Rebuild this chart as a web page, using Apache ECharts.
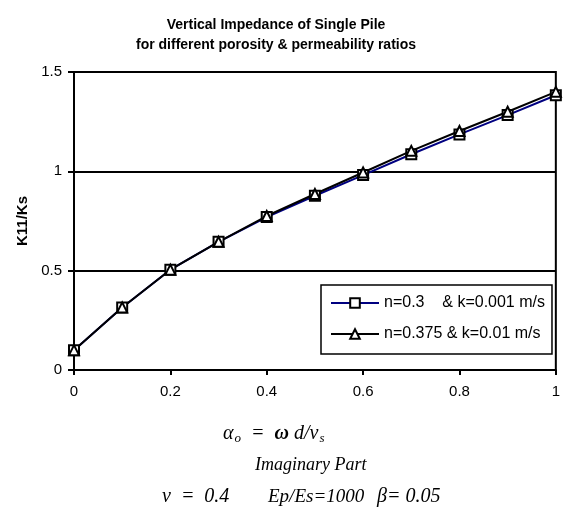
<!DOCTYPE html>
<html>
<head>
<meta charset="utf-8">
<script src="https://cdn.jsdelivr.net/npm/echarts@6/dist/echarts.min.js"></script>
<style>
  html, body { margin: 0; padding: 0; background: #fff; }
  #chart { width: 563px; height: 514px; }
</style>
</head>
<body>
<div id="chart"></div>
<script>
var xVals = [0, 0.1, 0.2, 0.3, 0.4, 0.5, 0.6, 0.7, 0.8, 0.9, 1.0];
var seriesNames = ['n=0.3    & k=0.001 m/s', 'n=0.375 & k=0.01 m/s'];
var k11Low = [0.10, 0.315, 0.505, 0.645, 0.77, 0.877, 0.981, 1.086, 1.186, 1.283, 1.383];
var k11High = [0.10, 0.315, 0.505, 0.645, 0.775, 0.886, 0.994, 1.103, 1.203, 1.30, 1.40];

function pairs(ys) {
  return xVals.map(function (x, i) { return [x, ys[i]]; });
}

var chart = echarts.init(document.getElementById('chart'));
var serif = '"Liberation Serif", "Times New Roman", serif';
var sans = 'Arial, "Liberation Sans", sans-serif';

chart.setOption({
  animation: false,
  backgroundColor: '#fff',
  title: {
    text: 'Vertical Impedance of Single Pile\nfor different porosity & permeability ratios',
    left: 271,
    top: 10,
    textAlign: 'center',
    textStyle: { fontFamily: sans, fontSize: 14, fontWeight: 'bold', color: '#000', lineHeight: 20 }
  },
  grid: { left: 74, right: 4, top: 72, bottom: 144, show: true, borderColor: '#000', borderWidth: 2 },
  legend: {
    orient: 'vertical',
    left: 321,
    top: 285,
    padding: [10, 7, 12, 9],
    itemGap: 15,
    itemWidth: 48,
    itemHeight: 12,
    borderColor: '#000',
    borderWidth: 1.5,
    backgroundColor: '#fff',
    textStyle: { fontFamily: sans, fontSize: 16, color: '#000' },
    data: seriesNames
  },
  xAxis: {
    type: 'value',
    min: 0, max: 1, interval: 0.2,
    axisLine: { lineStyle: { color: '#000', width: 2 } },
    axisTick: { show: true, length: 5, lineStyle: { color: '#000', width: 2 } },
    axisLabel: { color: '#000', fontSize: 15, fontFamily: sans, margin: 14 },
    splitLine: { show: false }
  },
  yAxis: {
    type: 'value',
    min: 0, max: 1.5, interval: 0.5,
    name: 'K11/Ks',
    nameLocation: 'middle',
    nameGap: 43,
    nameTextStyle: { color: '#000', fontSize: 15, fontWeight: 'bold', fontFamily: sans },
    axisLine: { show: true, lineStyle: { color: '#000', width: 2 } },
    axisTick: { show: true, length: 6, lineStyle: { color: '#000', width: 2 } },
    axisLabel: { color: '#000', fontSize: 15, fontFamily: sans, margin: 12 },
    splitLine: { show: true, lineStyle: { color: '#000', width: 2 } }
  },
  series: [
    {
      name: seriesNames[0],
      type: 'line',
      data: pairs(k11Low),
      symbol: 'rect',
      symbolSize: 10,
      showAllSymbol: true,
      lineStyle: { color: '#000080', width: 2 },
      itemStyle: { color: '#fff', borderColor: '#000', borderWidth: 2 }
    },
    {
      name: seriesNames[1],
      type: 'line',
      data: pairs(k11High),
      symbol: 'triangle',
      symbolSize: 10,
      showAllSymbol: true,
      lineStyle: { color: '#000', width: 2 },
      itemStyle: { color: '#fff', borderColor: '#000', borderWidth: 2 }
    }
  ],
  graphic: [
    {
      type: 'text', left: 223, top: 424,
      style: {
        text: '{a|α}{s|o}{a|  =  }{w|ω}{a| d/v}{s|s}',
        rich: {
          a: { fontFamily: serif, fontStyle: 'italic', fontSize: 20, fill: '#000' },
          w: { fontFamily: serif, fontStyle: 'italic', fontWeight: 'bold', fontSize: 20, fill: '#000' },
          s: { fontFamily: serif, fontStyle: 'italic', fontSize: 13, fill: '#000', verticalAlign: 'bottom', padding: [9, 0, 0, 1] }
        }
      }
    },
    {
      type: 'text', left: 255, top: 456,
      style: { text: 'Imaginary Part', font: 'italic 18px ' + serif, fill: '#000' }
    },
    {
      type: 'text', left: 162, top: 487,
      style: { text: 'ν  =  0.4', font: 'italic 20px ' + serif, fill: '#000' }
    },
    {
      type: 'text', left: 268, top: 487,
      style: { text: 'Ep/Es=1000', font: 'italic 19px ' + serif, fill: '#000' }
    },
    {
      type: 'text', left: 377, top: 487,
      style: { text: 'β= 0.05', font: 'italic 20px ' + serif, fill: '#000' }
    }
  ]
});
</script>
</body>
</html>
